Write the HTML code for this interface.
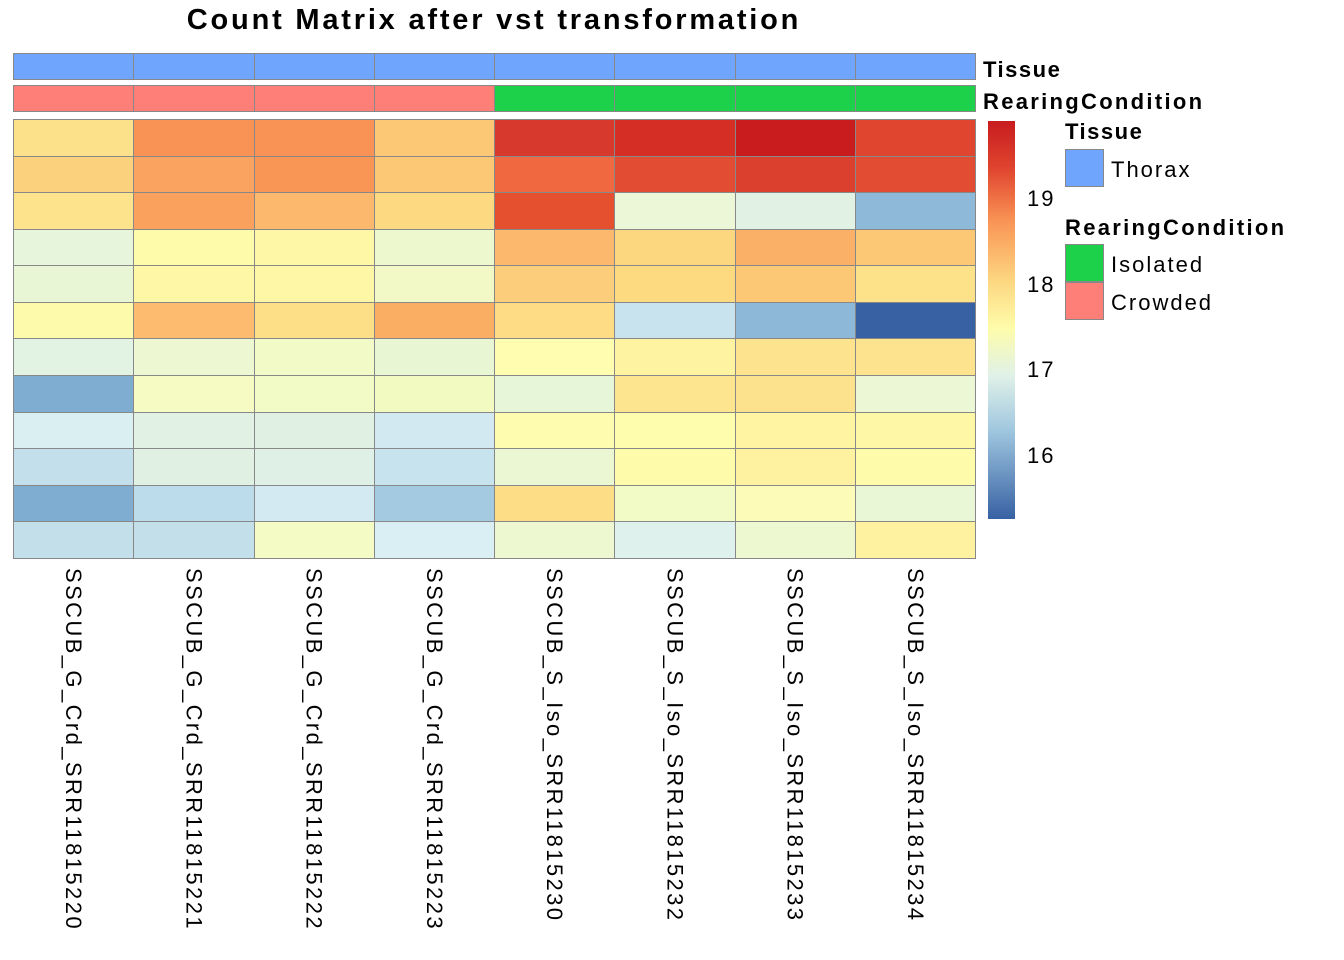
<!DOCTYPE html>
<html><head><style>
body{margin:0;background:#fff;width:1344px;height:960px;position:relative;overflow:hidden;font-family:"Liberation Sans",sans-serif;letter-spacing:2px}
.a{position:absolute}
.c{position:absolute;box-sizing:border-box;border:1.5px solid #888}
.lab{position:absolute;writing-mode:vertical-rl;font-size:22px;top:568px;white-space:nowrap;line-height:22px;letter-spacing:2.4px}
.b{font-weight:bold;font-size:22px;letter-spacing:2.3px}
</style></head><body>
<div class="a" style="left:0;width:988px;top:4px;text-align:center;font-weight:bold;font-size:29px;letter-spacing:2.8px">Count Matrix after vst transformation</div>
<div id="g"></div>
<div class="a b" style="left:983px;top:57px;letter-spacing:1.5px">Tissue</div>
<div class="a b" style="left:983px;top:89px">RearingCondition</div>
<div class="a" style="left:988px;top:121px;width:27px;height:398px;background:linear-gradient(to bottom,#c81c1f 0%,#e0452f 12%,#f99355 25%,#fdd680 40%,#fefcaa 52%,#e0f1e8 64%,#9fc6df 78%,#3761a3 100%)"></div>
<div class="a" style="left:1027px;top:186px;font-size:22px">19</div>
<div class="a" style="left:1027px;top:272px;font-size:22px">18</div>
<div class="a" style="left:1027px;top:357px;font-size:22px">17</div>
<div class="a" style="left:1027px;top:443px;font-size:22px">16</div>
<div class="a b" style="left:1065px;top:119px;letter-spacing:1.5px">Tissue</div>
<div class="c" style="left:1065px;top:149px;width:39px;height:38px;background:#70a5fe"></div>
<div class="a" style="left:1111px;top:157px;font-size:22px">Thorax</div>
<div class="a b" style="left:1065px;top:215px">RearingCondition</div>
<div class="c" style="left:1065px;top:244px;width:39px;height:38px;background:#1dd14b"></div>
<div class="c" style="left:1065px;top:282px;width:39px;height:38px;background:#fe7f78"></div>
<div class="a" style="left:1111px;top:252px;font-size:22px">Isolated</div>
<div class="a" style="left:1111px;top:290px;font-size:22px">Crowded</div>
<script>
var M=[
["#FCE08A","#F99355","#F99355","#FCC876","#D73A2C","#D42E25","#C81C1F","#E0452F"],
["#FCD17E","#FAA25F","#F99656","#FCC876","#EF6840","#E24C32","#DB3F2D","#E24C32"],
["#FDE38C","#FAA15D","#FCB96E","#FDDA82","#E5502F","#EBF7D6","#E1F1E3","#8FB9D8"],
["#E6F5DB","#FEFBAA","#FEF8A6","#EDF8CF","#FCB86C","#FDD680","#FBB068","#FCC876"],
["#E9F6D6","#FEF7A6","#FEF8A6","#F2F9C6","#FCCE7C","#FDD980","#FCC876","#FDE28A"],
["#FEFAAB","#FCBB6E","#FDDF88","#FAAE64","#FDDC85","#C9E3EE","#8EB8D8","#3761A3"],
["#E2F2E3","#EDF8D2","#F2FAC8","#E9F6D4","#FEFDB0","#FEF3A0","#FDE38D","#FDE38D"],
["#7EADD1","#F5FBC2","#F2FAC6","#F2FAC2","#E7F6D8","#FDE48E","#FDE28D","#ECF7D6"],
["#D9EFF2","#E1F1E4","#E0F1E4","#D3E9F2","#FEFCAE","#FEFDAE","#FEF4A2","#FEF8A6"],
["#C3DFEB","#E0F1E3","#DFF1E7","#C7E3EE","#EBF7D2","#FEFCAA","#FEF2A0","#FEFCAA"],
["#7EADD1","#BCDBEB","#D3EAF3","#A3CAE0","#FDDD85","#F2FAC6","#FCFCB8","#EAF7D6"],
["#C3DFEA","#C3DFEA","#F4FBC4","#D9EFF3","#EDF8D0","#DEF1EC","#EDF8D0","#FEF2A0"]];
var names=["SSCUB_G_Crd_SRR11815220","SSCUB_G_Crd_SRR11815221","SSCUB_G_Crd_SRR11815222","SSCUB_G_Crd_SRR11815223","SSCUB_S_Iso_SRR11815230","SSCUB_S_Iso_SRR11815232","SSCUB_S_Iso_SRR11815233","SSCUB_S_Iso_SRR11815234"];
var h="",x0=13,w=120.25,y0=119,rh=36.58;
for(var j=0;j<8;j++){
 var x=x0+j*w;
 h+='<div class="c" style="left:'+x+'px;top:53px;width:'+(w+1)+'px;height:27px;background:#70a5fe"></div>';
 h+='<div class="c" style="left:'+x+'px;top:85px;width:'+(w+1)+'px;height:27px;background:'+(j<4?'#fe7f78':'#1dd14b')+'"></div>';
 for(var i=0;i<12;i++) h+='<div class="c" style="left:'+x+'px;top:'+(y0+i*rh)+'px;width:'+(w+1)+'px;height:'+(rh+1)+'px;background:'+M[i][j]+'"></div>';
 h+='<div class="lab" style="left:'+(x+w/2-11)+'px">'+names[j]+'</div>';
}
document.getElementById('g').innerHTML=h;
</script>
</body></html>
